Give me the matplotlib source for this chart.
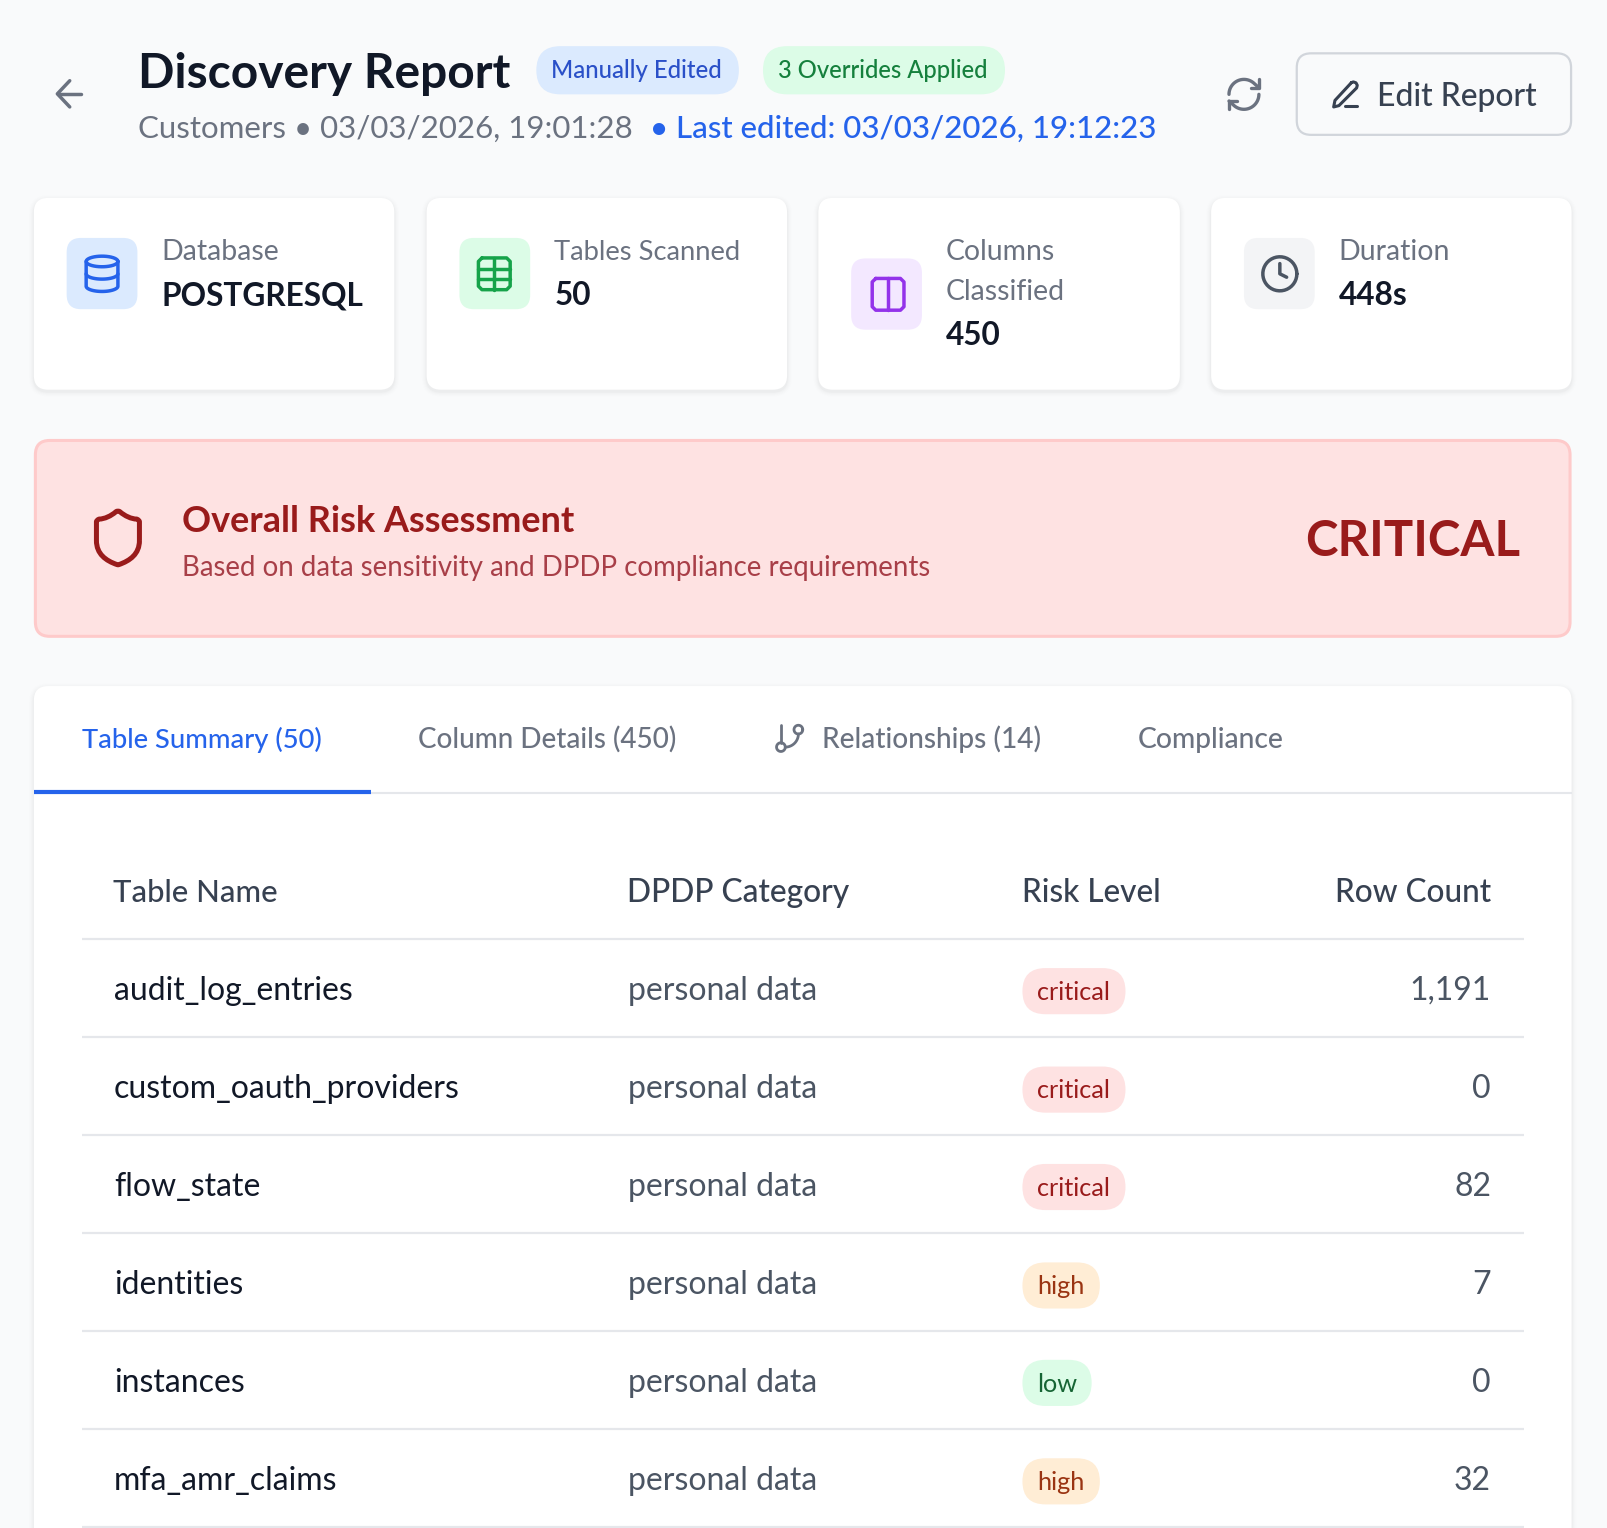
import numpy as np
import matplotlib
matplotlib.use('Agg')
import matplotlib.pyplot as plt
from matplotlib.patches import FancyBboxPatch, PathPatch
from matplotlib.path import Path

plt.rcParams['font.family'] = ['Lato', 'DejaVu Sans']

# table data
table_names = ['audit_log_entries', 'custom_oauth_providers', 'flow_state', 'identities', 'instances', 'mfa_amr_claims']
dpdp_category = ['personal data', 'personal data', 'personal data', 'personal data', 'personal data', 'personal data']
risk_levels = ['critical', 'critical', 'critical', 'high', 'low', 'high']
row_counts = ['1,191', '0', '82', '7', '0', '32']
table_headers = ['Table Name', 'DPDP Category', 'Risk Level', 'Row Count']

# stat cards
card_labels = [['Database'], ['Tables Scanned'], ['Columns', 'Classified'], ['Duration']]
card_values = ['POSTGRESQL', '50', '450', '448s']

# tabs
tab_labels = ['Table Summary (50)', 'Column Details (450)', 'Relationships (14)', 'Compliance']

BG = '#F9FAFB'
BLUE = '#2563EB'
DARK = '#111827'
GRAY = '#6B7280'
LINE = '#E5E7EB'
RED = '#991B1B'

fig = plt.figure(figsize=(16.08, 15.28), dpi=100, facecolor=BG)
ax = fig.add_axes([0, 0, 1, 1])
ax.set_xlim(0, 1568)
ax.set_ylim(1490, 0)
ax.axis('off')


def box(x0, y0, x1, y1, r, fc, ec='none', lw=0, z=2, alpha=None):
    p = FancyBboxPatch((x0, y0), x1 - x0, y1 - y0, boxstyle='round,pad=0,rounding_size=%s' % r,
                       fc=fc, ec=ec, lw=lw, zorder=z, alpha=alpha)
    ax.add_patch(p)


def card(x0, y0, x1, y1, r=14):
    # soft shadow first
    for grow, a in [(5, 0.005), (4, 0.006), (3, 0.008), (2, 0.012), (1, 0.02)]:
        box(x0 - grow, y0 - grow + 2, x1 + grow, y1 + grow + 2, r + grow, '#000000', z=1, alpha=a)
    box(x0, y0, x1, y1, r, 'white')


def txt(x, y, s, size, color, weight='normal', ha='left'):
    ax.text(x, y, s, fontsize=size, color=color, fontweight=weight, ha=ha, va='baseline', zorder=5)


def hline(x0, x1, y, color=LINE, lw=1.6, z=3):
    ax.plot([x0, x1], [y, y], color=color, lw=lw, zorder=z, solid_capstyle='butt')


def arc(cx, cy, r, a0, a1, ry=None):
    t = np.radians(np.linspace(a0, a1, 40))
    return np.column_stack([cx + r * np.cos(t), cy + (ry if ry else r) * np.sin(t)])


def icon(cx, cy, k, polys, color, lw):
    # polys are in the 24 unit grid of the icon set
    for pts in polys:
        pts = np.asarray(pts, float)
        ax.plot(cx + (pts[:, 0] - 12) * k, cy + (pts[:, 1] - 12) * k, color=color, lw=lw,
                solid_capstyle='round', solid_joinstyle='round', zorder=4)


# header
icon(68, 91.5, 1.42, [[(20, 12), (4, 12)], [(12, 3), (3.5, 12), (12, 21)]], GRAY, 2.5)
txt(134.5, 85.5, 'Discovery Report', 34.5, DARK, 'bold')
txt(135, 134, 'Customers • 03/03/2026, 19:01:28', 22.5, GRAY)
txt(634, 134, '• Last edited: 03/03/2026, 19:12:23', 22.5, BLUE, 'medium')

box(523, 45, 720.5, 92, 23.5, '#DBEAFE')
txt(537.5, 76, 'Manually Edited', 17.2, '#2A50C8', 'medium')
box(744, 45, 980, 92, 23.5, '#DCFCE7')
txt(759, 76, '3 Overrides Applied', 17.15, '#15803D', 'medium')

refresh = [
    np.vstack([arc(12, 12, 9, 180, 315), [(21, 8)]]),
    [(21, 3), (21, 8), (16, 8)],
    np.vstack([arc(12, 12, 9, 0, 135), [(3, 16)]]),
    [(8, 16), (3, 16), (3, 21)],
]
icon(1213, 92, 1.62, refresh, GRAY, 2.4)

box(1264.5, 52, 1532, 131.5, 14, BG, '#D1D5DB', 1.6)
pen = [
    [(16.5, 3.5), (18, 2.9), (20, 3.6), (21, 5.5), (20.5, 7.5), (7, 21), (3, 22), (4, 17), (16.5, 3.5)],
    [(12, 21), (21, 21)],
]
icon(1312, 91.5, 1.28, pen, '#374151', 2.2)
txt(1343, 103.5, 'Edit Report', 22.95, '#374151', 'medium')

# stat cards
card_x = [(33, 384.5), (416, 767.5), (798, 1150.5), (1181, 1532.5)]
icon_bg = ['#DBEAFE', '#DCFCE7', '#F3E8FF', '#F3F4F6']
icon_fg = [BLUE, '#16A34A', '#9333EA', '#4B5563']
label_size = [20.5, 19.7, 20.4, 20.5]
for i, (x0, x1) in enumerate(card_x):
    card(x0, 193, x1, 380)
    iy = 252 if len(card_labels[i]) > 1 else 232
    box(x0 + 32, iy, x0 + 101, iy + 69.5, 14, icon_bg[i])
    y = 253.5
    for line in card_labels[i]:
        txt(x0 + 124.5, y, line, label_size[i], GRAY)
        y += 39
    txt(x0 + 124.5, y + 5, card_values[i], 22.8, DARK, 'bold')

k = 1.72
# database
db_rim = arc(12, 5, 9, 0, 360, ry=3)
db_side = np.vstack([[(3, 5)], arc(12, 19, 9, 180, 90, ry=3), arc(12, 19, 9, 90, 0, ry=3), [(21, 5)]])
db_mid = np.vstack([arc(12, 12, 9, 180, 90, ry=3), arc(12, 12, 9, 90, 0, ry=3)])
icon(99.5, 267, k, [db_rim, db_side, db_mid], BLUE, 2.5)
# table
tbl_rect = [(5, 3), (19, 3), (21, 5), (21, 19), (19, 21), (5, 21), (3, 19), (3, 5), (5, 3)]
icon(482, 267, k, [tbl_rect, [(12, 3), (12, 21)], [(3, 9), (21, 9)], [(3, 15), (21, 15)]], '#16A34A', 2.5)
# columns
icon(866, 287, k, [tbl_rect, [(12, 3), (12, 21)]], '#9333EA', 2.5)
# clock
icon(1248, 267, 1.66, [arc(12, 12, 10, 0, 360), [(12, 6), (12, 12), (16, 14)]], '#4B5563', 2.5)

# risk banner
box(34.5, 429.5, 1531, 620.5, 14, '#FEE2E2', '#FECACA', 2.2)
shield_v = [(20, 13), (20, 18), (16.5, 20.5), (12.34, 21.95), (12, 22.1), (11.67, 21.94), (7.5, 20.5), (4, 18),
            (4, 13), (4, 6), (4, 5.4), (5, 5), (7, 5), (9.5, 3.8), (11.24, 2.28), (12, 1.7), (12.76, 2.28),
            (14.51, 3.81), (17, 5), (19, 5), (20, 5.4), (20, 6), (20, 13)]
shield_c = [Path.MOVETO, Path.CURVE4, Path.CURVE4, Path.CURVE4, Path.CURVE3, Path.CURVE3, Path.CURVE4, Path.CURVE4,
            Path.CURVE4, Path.LINETO, Path.CURVE3, Path.CURVE3, Path.CURVE4, Path.CURVE4, Path.CURVE4, Path.CURVE3,
            Path.CURVE3, Path.CURVE4, Path.CURVE4, Path.CURVE4, Path.CURVE3, Path.CURVE3, Path.LINETO]
shield_v = (np.array(shield_v) - 12) * 2.62 + [115, 524.5]
ax.add_patch(PathPatch(Path(shield_v, shield_c), fc='none', ec=RED, lw=3.6, joinstyle='round', zorder=4))
txt(177, 518.5, 'Overall Risk Assessment', 25.9, RED, 'bold')
txt(177.5, 561.5, 'Based on data sensitivity and DPDP compliance requirements', 19.87, '#A83F48')
txt(1482, 542.5, 'CRITICAL', 35.4, RED, 'bold', ha='right')

# tab panel, runs off the bottom of the picture
card(33, 669, 1532.5, 1540)
hline(33, 1532.5, 773, lw=1.5)
hline(33, 362, 772.7, color=BLUE, lw=3, z=4)
tab_x = [79.5, 408, 801.5, 1109.5]
tab_size = [19.7, 20.1, 20.2, 20.35]
for i, label in enumerate(tab_labels):
    txt(tab_x[i], 729.5, label, tab_size[i], BLUE if i == 0 else GRAY, 'medium')
branch = [[(6, 3), (6, 15)], arc(18, 6, 3, 0, 360), arc(6, 18, 3, 0, 360), arc(9, 9, 9, 0, 90)]
icon(770, 720, 1.42, branch, GRAY, 2.0)

# table
head_x = [110.5, 611, 997]
head_size = [22.3, 22.9, 22.7]
for i in range(3):
    txt(head_x[i], 879.5, table_headers[i], head_size[i], '#374151', 'medium')
txt(1454, 879.5, table_headers[3], 22.7, '#374151', 'medium', ha='right')
hline(80, 1486, 915.5)

pill_style = {'critical': ('#FEE2E2', RED, 1097.5), 'high': ('#FFEDD5', '#9A3412', 1072.5), 'low': ('#DCFCE7', '#166534', 1064.5)}
row_y = [964, 1060, 1155, 1251, 1346, 1442]
for i, name in enumerate(table_names):
    y = row_y[i]
    txt(111, y + 11, name, 23, DARK)
    txt(612, y + 11, dpdp_category[i], 23, '#4B5563')
    fc, tc, xr = pill_style[risk_levels[i]]
    box(997, y - 20, xr, y + 25, 22.5, fc)
    txt(1011.5, y + 11, risk_levels[i], 18.2, tc)
    txt(1454, y + 11, row_counts[i], 23, '#4B5563', ha='right')
    hline(80, 1486, y + 47)

fig.savefig('out.png', dpi=100, facecolor=BG)
